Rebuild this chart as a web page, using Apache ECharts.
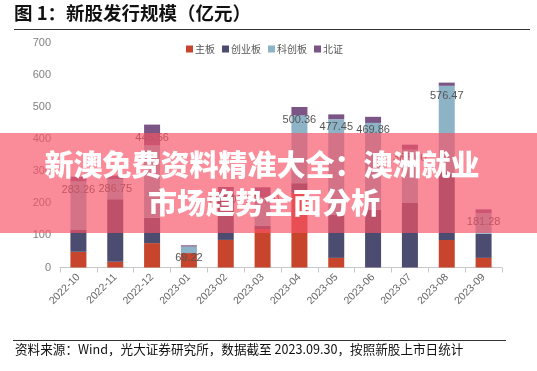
<!DOCTYPE html>
<html>
<head>
<meta charset="utf-8">
<script src="https://cdn.jsdelivr.net/npm/echarts@6/dist/echarts.min.js"></script>
<style>
html,body{margin:0;padding:0;background:#fff;}
#c{width:537px;height:371px;}
</style>
</head>
<body>
<div id="c"></div>
<script>
var categories = ['2022-10','2022-11','2022-12','2023-01','2023-02','2023-03','2023-04','2023-05','2023-06','2023-07','2023-08','2023-09'];
var mainBoard = [49, 18, 76, 45, 86, 120, 233, 30, 0, 0, 86, 30];
var chiNext   = [68, 195, 79, 0, 150, 10, 30, 134, 180, 201, 209, 75];
var star      = [151.26, 62.75, 225.56, 20.22, 0, 90, 211.36, 298.45, 270.86, 166, 271.47, 64.28];
var bse       = [15, 11, 65, 4, 15, 30, 26, 15, 19, 16, 10, 12];
var totals    = categories.map(function(c, i){ return +(mainBoard[i] + chiNext[i] + star[i] + bse[i]).toFixed(2); });
var yTicks = [0, 700, 100];

var chart = echarts.init(document.getElementById('c'), null, {renderer: 'canvas'});
var font = '"Noto Sans CJK SC", "Noto Sans", sans-serif';
var numFont = '"Liberation Sans", Arial, sans-serif';
function barSeries(name, data, color) {
  return {name: name, type: 'bar', stack: 'total', data: data, barWidth: 16,
          itemStyle: {color: color}, emphasis: {disabled: true}};
}
chart.setOption({
  animation: false,
  textStyle: {fontFamily: font},
  grid: {left: 60, right: 35, top: 43, bottom: 103.5},
  legend: {
    data: ['主板', '创业板', '科创板', '北证'],
    left: 181, top: 39, itemWidth: 7, itemHeight: 7, itemGap: 7,
    icon: 'rect',
    textStyle: {fontSize: 10, color: '#555', fontFamily: font, padding: [0,0,0,-3]}
  },
  xAxis: {
    type: 'category', data: categories,
    axisLine: {lineStyle: {color: '#c8c8c8'}},
    axisTick: {show: true, length: 5, lineStyle: {color: '#c8c8c8'}},
    axisLabel: {rotate: 45, fontSize: 10.5, color: '#666', margin: 8, interval: 0, fontFamily: numFont}
  },
  yAxis: {
    type: 'value', min: yTicks[0], max: yTicks[1], interval: yTicks[2],
    axisLine: {show: false}, axisTick: {show: false},
    splitLine: {show: false},
    axisLabel: {fontSize: 11, color: '#808080', margin: 9, fontFamily: numFont}
  },
  series: [
    barSeries('主板', mainBoard, '#c7452c'),
    barSeries('创业板', chiNext, '#4c4b70'),
    barSeries('科创板', star, '#8db3c7'),
    barSeries('北证', bse, '#7a5585'),
    {name: '合计', type: 'line', data: totals, symbol: 'circle', symbolSize: 1, showSymbol: true,
     itemStyle: {color: 'rgba(0,0,0,0)'}, lineStyle: {opacity: 0}, z: 5,
     silent: true,
     label: {show: true, position: 'bottom', distance: 7, fontSize: 11, color: '#555', fontFamily: numFont,
             formatter: function(p){ return p.value.toFixed(2); }}}
  ],
  graphic: [
    {type: 'text', left: 14, top: 4, style: {text: '图 1：新股发行规模（亿元）', font: 'bold 18.5px ' + font, fill: '#111'}},
    {type: 'line', shape: {x1: 14, y1: 29.5, x2: 530, y2: 29.5}, style: {stroke: '#333', lineWidth: 1}},
    {type: 'line', shape: {x1: 13, y1: 340.5, x2: 506, y2: 340.5}, style: {stroke: '#333', lineWidth: 1}},
    {type: 'text', left: 15, top: 343, style: {text: '资料来源：Wind，光大证券研究所，数据截至 2023.09.30，按照新股上市日统计', font: '12.6px ' + font, fill: '#111'}},
    {type: 'rect', shape: {x: 0, y: 133, width: 537, height: 100}, style: {fill: 'rgba(248,83,103,0.67)'}, z: 100},
    {type: 'text', x: 262, y: 165, z: 101, style: {text: '新澳免费资料精准大全：澳洲就业', font: '900 29px ' + font, fill: '#fff', align: 'center', verticalAlign: 'middle', shadowColor: 'rgba(0,0,0,0.25)', shadowBlur: 2}},
    {type: 'text', x: 264, y: 203, z: 101, style: {text: '市场趋势全面分析', font: '900 29px ' + font, fill: '#fff', align: 'center', verticalAlign: 'middle', shadowColor: 'rgba(0,0,0,0.25)', shadowBlur: 2}}
  ]
});
</script>
</body>
</html>
